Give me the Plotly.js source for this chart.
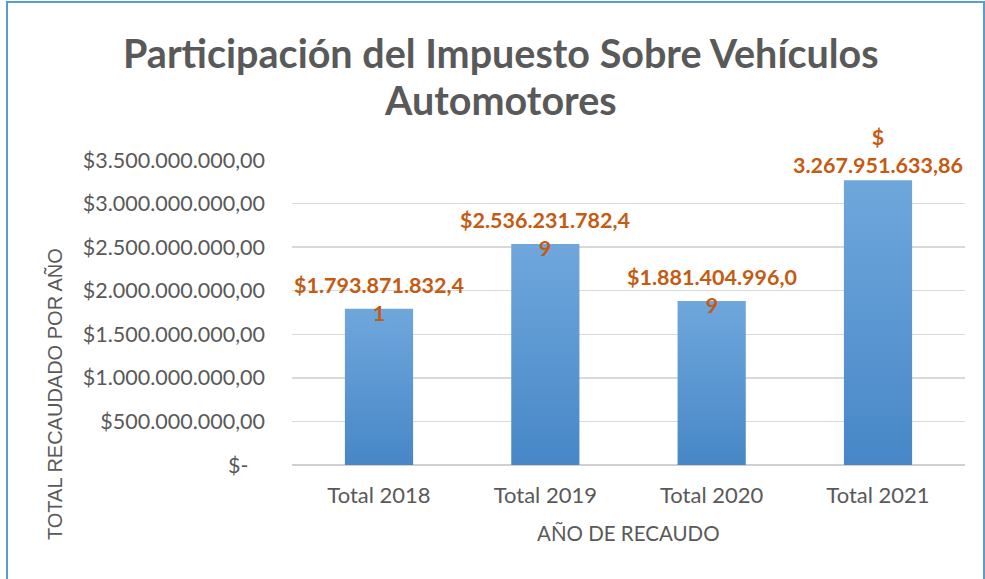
<!DOCTYPE html>
<html>
<head>
<meta charset="utf-8">
<script src="https://cdn.plot.ly/plotly-3.0.1.min.js"></script>
<style>
  html, body { margin: 0; padding: 0; background: #fff; }
  #wrap { position: relative; width: 985px; height: 579px; }
  #chart { width: 985px; height: 579px; }
  #frame { position: absolute; left: 6px; top: 1px; width: 975px; height: 590px;
           border-left: 2px solid #5B9BD5; border-top: 2px solid #5B9BD5; border-right: 2px solid #5B9BD5;
           pointer-events: none; }
</style>
</head>
<body>
<div id="wrap">
  <div id="chart"></div>
  <div id="frame"></div>
</div>
<script>
const categories = ["Total 2018", "Total 2019", "Total 2020", "Total 2021"];
const values = [1793871832.41, 2536231782.49, 1881404996.09, 3267951633.86];
const valueLabels = ["$1.793.871.832,4<br>1", "$2.536.231.782,4<br>9", "$1.881.404.996,0<br>9", "$<br>3.267.951.633,86"];
const tickVals = [0, 500000000, 1000000000, 1500000000, 2000000000, 2500000000, 3000000000, 3500000000];
const tickText = ["$-   ", "$500.000.000,00", "$1.000.000.000,00", "$1.500.000.000,00", "$2.000.000.000,00", "$2.500.000.000,00", "$3.000.000.000,00", "$3.500.000.000,00"];
const titleLines = ["Participación del Impuesto Sobre Vehículos", "Automotores"];

const FONT = "Lato, 'Open Sans', sans-serif";
const GRAY = "#595959";

const annotations = values.map((v, i) => {
  const lines = valueLabels[i].split("<br>");
  const shortTail = lines[lines.length - 1].length < 3;
  return {
    x: categories[i], y: v, xref: "x", yref: "y",
    text: valueLabels[i], showarrow: false,
    yanchor: "bottom", xanchor: "center",
    yshift: shortTail ? -19 : 0,
    font: { family: FONT, size: 21.5, color: "#C55A11", weight: "bold" }
  };
});

titleLines.forEach((t, i) => {
  annotations.push({
    text: t, xref: "paper", yref: "paper",
    x: 0.3105, y: i === 0 ? 1.354 : 1.197, showarrow: false,
    xanchor: "center", yanchor: "middle",
    font: { family: FONT, size: 39.5, color: GRAY, weight: "bold" }
  });
});

annotations.push({
  text: "TOTAL RECAUDADO POR AÑO", xref: "paper", yref: "paper",
  x: -0.352, y: 0.233, textangle: -90, showarrow: false,
  xanchor: "center", yanchor: "middle",
  font: { family: "'Liberation Sans', Arial, sans-serif", size: 20, color: GRAY }
});
annotations.push({
  text: "AÑO DE RECAUDO", xref: "paper", yref: "paper",
  x: 0.5, y: -0.223, showarrow: false,
  xanchor: "center", yanchor: "middle",
  font: { family: FONT, size: 20.5, color: GRAY }
});

const data = [{
  type: "bar",
  x: categories,
  y: values,
  marker: { color: "#5B9BD5", line: { width: 0 } },
  hoverinfo: "skip"
}];

const layout = {
  width: 985, height: 579,
  margin: { l: 292, r: 20, t: 160, b: 114 },
  paper_bgcolor: "#ffffff", plot_bgcolor: "#ffffff",
  bargap: 0.59,
  showlegend: false,
  xaxis: {
    type: "category",
    tickfont: { family: FONT, size: 22, color: GRAY },
    showgrid: false, zeroline: false, showline: false,
    ticks: "", ticklabelstandoff: 15
  },
  yaxis: {
    range: [0, 3500000000],
    tickvals: tickVals, ticktext: tickText,
    tickfont: { family: FONT, size: 21.5, color: GRAY },
    showgrid: true, gridcolor: "#D9D9D9", gridwidth: 1.5,
    zeroline: true, zerolinecolor: "#D0D0D0", zerolinewidth: 2,
    showline: false, ticks: "", ticklabelstandoff: 26
  },
  annotations: annotations
};

Plotly.newPlot("chart", data, layout, { displayModeBar: false, staticPlot: true }).then(gd => {
  // vertical gradient fill on the bars, as in the reference
  const svg = gd.querySelector("svg.main-svg");
  const NS = "http://www.w3.org/2000/svg";
  let defs = svg.querySelector("defs");
  if (!defs) { defs = document.createElementNS(NS, "defs"); svg.insertBefore(defs, svg.firstChild); }
  const grad = document.createElementNS(NS, "linearGradient");
  grad.setAttribute("id", "barGrad");
  grad.setAttribute("x1", "0"); grad.setAttribute("y1", "0");
  grad.setAttribute("x2", "0"); grad.setAttribute("y2", "1");
  [["0", "#6FA7DC"], ["1", "#4787C7"]].forEach(([o, c]) => {
    const s = document.createElementNS(NS, "stop");
    s.setAttribute("offset", o); s.setAttribute("stop-color", c);
    grad.appendChild(s);
  });
  defs.appendChild(grad);
  gd.querySelectorAll(".bars .point path").forEach(p => {
    p.style.fill = "url(#barGrad)";
  });
});
</script>
</body>
</html>
